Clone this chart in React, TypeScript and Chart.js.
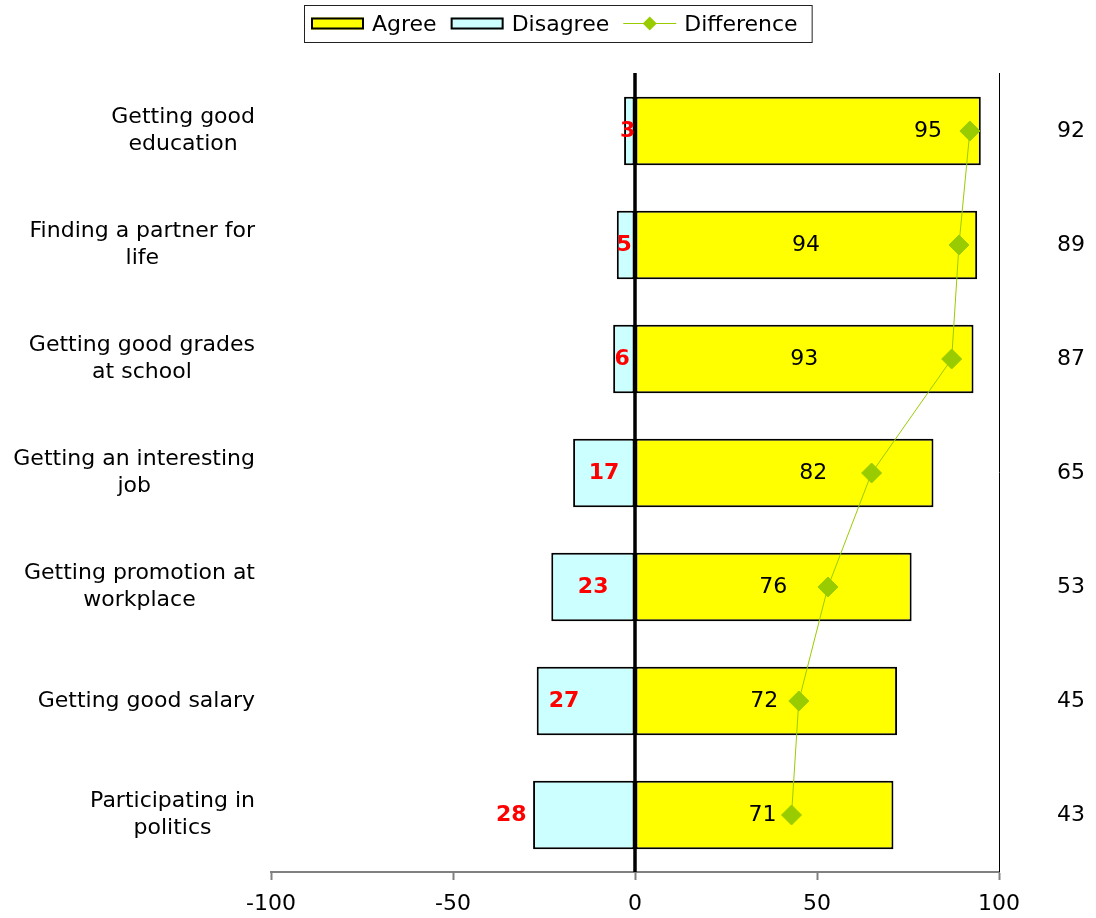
import React, { useEffect, useRef } from 'react';
import { Chart, registerables } from 'chart.js';

Chart.register(...registerables);

const categories: string[][] = [
  ['Getting good', 'education'],
  ['Finding a partner for', 'life'],
  ['Getting good grades', 'at school'],
  ['Getting an interesting', 'job'],
  ['Getting promotion at', 'workplace'],
  ['Getting good salary'],
  ['Participating in', 'politics'],
];
const agree = [95, 94, 93, 82, 76, 72, 71];
const disagree = [3, 5, 6, 17, 23, 27, 28];
const difference = [92, 89, 87, 65, 53, 45, 43];
// where each value label sits, in axis units
const agreeLabelAt = [80.5, 47, 46.5, 49, 38, 35.5, 35];
const disagreeLabelAt = [-2, -3, -3.5, -8.5, -11.5, -19.5, -34];
const xMin = -100;
const xMax = 100;
const xStep = 50;

const FONT = '"DejaVu Sans", Verdana, sans-serif';
const AGREE_COLOR = '#FFFF00';
const DISAGREE_COLOR = '#CCFFFF';
const DIFF_COLOR = '#99CC00';

const overlay = {
  id: 'overlay',
  afterDatasetsDraw(chart: any) {
    const { ctx, chartArea: a, scales } = chart;
    const xs = scales.x;
    const ys = scales.y;
    ctx.save();
    // zero line
    const x0 = xs.getPixelForValue(0);
    ctx.strokeStyle = '#000';
    ctx.lineWidth = 3.5;
    ctx.beginPath();
    ctx.moveTo(x0, a.top - 1);
    ctx.lineTo(x0, a.bottom);
    ctx.stroke();
    // right border
    ctx.lineWidth = 1;
    ctx.beginPath();
    ctx.moveTo(Math.round(a.right) + 0.5, a.top - 1);
    ctx.lineTo(Math.round(a.right) + 0.5, a.bottom);
    ctx.stroke();

    ctx.textBaseline = 'middle';
    ctx.textAlign = 'center';
    for (let i = 0; i < categories.length; i++) {
      const yc = ys.getPixelForValue(i);
      // agree labels
      ctx.font = `22px ${FONT}`;
      ctx.fillStyle = '#000';
      ctx.fillText(String(agree[i]), xs.getPixelForValue(agreeLabelAt[i]), yc);
      // disagree labels
      ctx.font = `bold 22px ${FONT}`;
      ctx.fillStyle = '#FF0000';
      ctx.fillText(String(disagree[i]), xs.getPixelForValue(disagreeLabelAt[i]), yc);
      // difference labels at right
      ctx.font = `22px ${FONT}`;
      ctx.fillStyle = '#000';
      ctx.fillText(String(difference[i]), a.right + 72, yc);
      // category labels
      const lines = categories[i];
      let maxW = 0;
      for (const l of lines) maxW = Math.max(maxW, ctx.measureText(l).width);
      const cx = a.left - 16 - maxW / 2;
      const lh = 27;
      lines.forEach((l, j) => {
        ctx.fillText(l, cx, yc + (j - (lines.length - 1) / 2) * lh);
      });
    }
    ctx.restore();
  },
  afterDraw(chart: any) {
    const { ctx } = chart;
    ctx.save();
    ctx.font = `22px ${FONT}`;
    ctx.textBaseline = 'middle';
    ctx.textAlign = 'left';
    const top = 5;
    const h = 37;
    const cy = top + h / 2;
    const left = 304;
    let x = left + 7;
    const items = chart.data.datasets.slice().sort((p: any, q: any) => (p.legendIndex ?? 0) - (q.legendIndex ?? 0));
    for (let k = 0; k < items.length; k++) {
      const ds: any = items[k];
      const symW = 53;
      if (ds.type === 'line') {
        ctx.strokeStyle = ds.borderColor;
        ctx.lineWidth = 1;
        ctx.beginPath();
        ctx.moveTo(x, cy);
        ctx.lineTo(x + symW, cy);
        ctx.stroke();
        const mx = x + symW / 2;
        ctx.fillStyle = ds.pointBackgroundColor;
        ctx.beginPath();
        ctx.moveTo(mx - 7, cy);
        ctx.lineTo(mx, cy - 7);
        ctx.lineTo(mx + 7, cy);
        ctx.lineTo(mx, cy + 7);
        ctx.closePath();
        ctx.fill();
      } else {
        ctx.fillStyle = ds.backgroundColor;
        ctx.fillRect(x, cy - 6, symW, 12);
        ctx.strokeStyle = '#000';
        ctx.lineWidth = 2;
        ctx.strokeRect(x + 1, cy - 5, symW - 2, 10);
      }
      x += symW + 8;
      ctx.fillStyle = '#000';
      ctx.fillText(ds.label, x, cy + 2);
      x += ctx.measureText(ds.label).width + (k < items.length - 1 ? 14 : 14);
    }
    ctx.strokeStyle = '#222';
    ctx.lineWidth = 1;
    ctx.strokeRect(left + 0.5, top + 0.5, x - left, h);
    ctx.restore();
  },
};

export default function App() {
  const ref = useRef<HTMLCanvasElement | null>(null);
  useEffect(() => {
    if (!ref.current) return;
    const chart = new Chart(ref.current, {
      type: 'bar',
      data: {
        labels: categories.map((c) => c.join(' ')),
        datasets: [
          {
            type: 'line',
            label: 'Difference',
            data: difference,
            indexAxis: 'y',
            borderColor: DIFF_COLOR,
            backgroundColor: DIFF_COLOR,
            pointBackgroundColor: DIFF_COLOR,
            pointBorderColor: DIFF_COLOR,
            pointBorderWidth: 1,
            pointStyle: 'rectRot',
            pointRadius: 10,
            borderWidth: 1,
            tension: 0,
            order: 0,
            legendIndex: 2,
          } as any,
          {
            type: 'bar',
            label: 'Agree',
            data: agree,
            backgroundColor: AGREE_COLOR,
            borderColor: '#000',
            borderWidth: 2,
            borderSkipped: false,
            grouped: false,
            barPercentage: 0.6,
            categoryPercentage: 1,
            order: 1,
            legendIndex: 0,
          } as any,
          {
            type: 'bar',
            label: 'Disagree',
            data: disagree.map((v) => -v),
            backgroundColor: DISAGREE_COLOR,
            borderColor: '#000',
            borderWidth: 2,
            borderSkipped: false,
            grouped: false,
            barPercentage: 0.6,
            categoryPercentage: 1,
            order: 1,
            legendIndex: 1,
          } as any,
        ],
      },
      options: {
        indexAxis: 'y',
        animation: false,
        responsive: false,
        maintainAspectRatio: false,
        layout: { padding: { top: 74, right: 97, left: 271, bottom: 0 } },
        plugins: {
          legend: { display: false },
          tooltip: { enabled: false },
        },
        scales: {
          y: {
            type: 'category',
            display: false,
            offset: true,
          },
          x: {
            type: 'linear',
            min: xMin,
            max: xMax,
            ticks: {
              stepSize: xStep,
              color: '#000',
              font: { family: FONT, size: 22 },
              padding: 11,
              maxRotation: 0,
            },
            grid: {
              drawOnChartArea: false,
              drawTicks: true,
              tickLength: 8,
              tickColor: '#808080',
              tickWidth: 2,
            },
            border: { display: true, color: '#808080', width: 2 },
            afterFit: (s: any) => {
              s.height = 46;
            },
          },
        },
      } as any,
      plugins: [overlay],
    });
    return () => chart.destroy();
  }, []);
  return (
    <div style={{ position: 'absolute', left: 0, top: 0, width: 1096, height: 918 }}>
      <canvas ref={ref} width={1096} height={918} style={{ display: 'block', width: 1096, height: 918 }} />
    </div>
  );
}
